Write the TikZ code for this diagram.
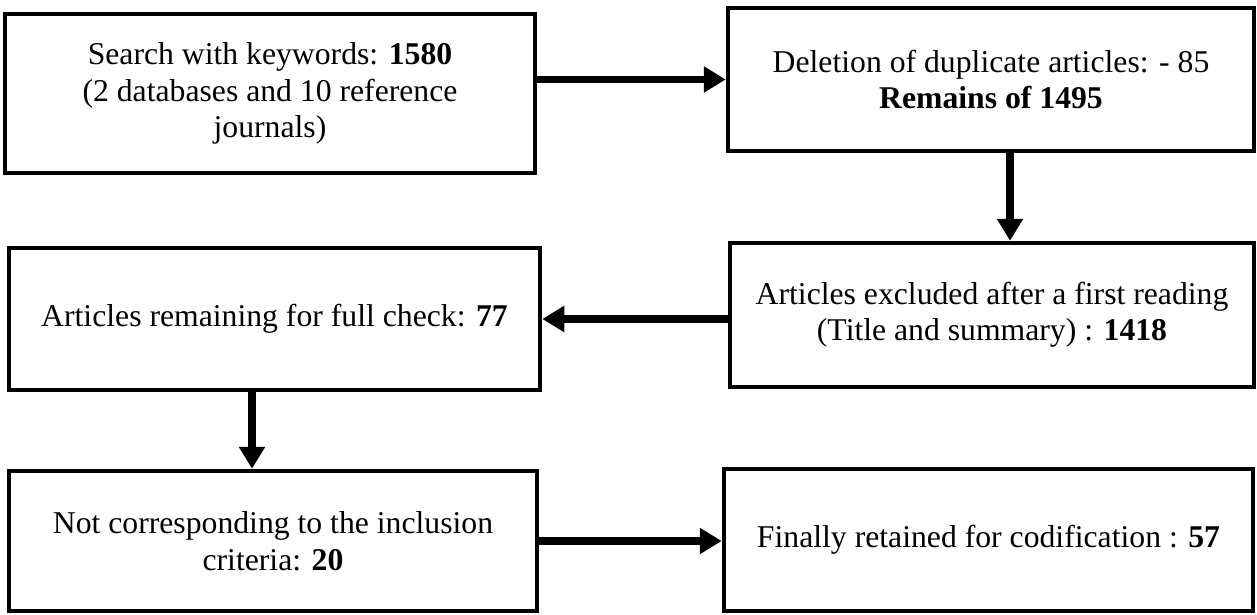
\documentclass[tikz,border=0pt]{standalone}
\usepackage{fontspec}
\setmainfont{Liberation Serif}
\usetikzlibrary{arrows.meta}
\begin{document}
\begin{tikzpicture}[x=1pt,y=-1pt,
  box/.style={draw=black, line width=4.5pt, rectangle, inner sep=0pt,
    align=center, font=\fontsize{31.7}{36.5}\selectfont},
  flow/.style={line width=7.5pt, -{Triangle[length=22pt,width=25pt]}}]
\useasboundingbox (0,0) rectangle (1257,614);
\node[box, minimum width=530pt, minimum height=159pt] (b1) at (270,93.5)
  {Search with keywords: \textbf{1580}\\(2 databases and 10 reference\\journals)};
\node[box, minimum width=526pt, minimum height=143pt] (b2) at (991,79.5)
  {Deletion of duplicate articles: - 85\\\textbf{Remains of 1495}};
\node[box, minimum width=524pt, minimum height=144pt] (b4) at (992,315)
  {Articles excluded after a first reading\\(Title and summary) : \textbf{1418}};
\node[box, minimum width=531pt, minimum height=142pt] (b3) at (274.5,319)
  {Articles remaining for full check: \textbf{77}};
\node[box, minimum width=528pt, minimum height=140pt] (b5) at (273,541)
  {Not corresponding to the inclusion\\criteria: \textbf{20}};
\node[box, minimum width=529pt, minimum height=142pt] (b6) at (988.5,540)
  {Finally retained for codification : \textbf{57}};
\coordinate (xa) at (1010,0);
\coordinate (xb) at (252,0);
\draw[flow] (b1.east |- b2.west) -- (b2.west);
\draw[flow] (b2.south -| xa) -- (b4.north -| xa);
\draw[flow] (b4.west |- b3.east) -- (b3.east);
\draw[flow] (b3.south -| xb) -- (b5.north -| xb);
\draw[flow] (b5.east) -- (b5.east -| b6.west);
\end{tikzpicture}
\end{document}
